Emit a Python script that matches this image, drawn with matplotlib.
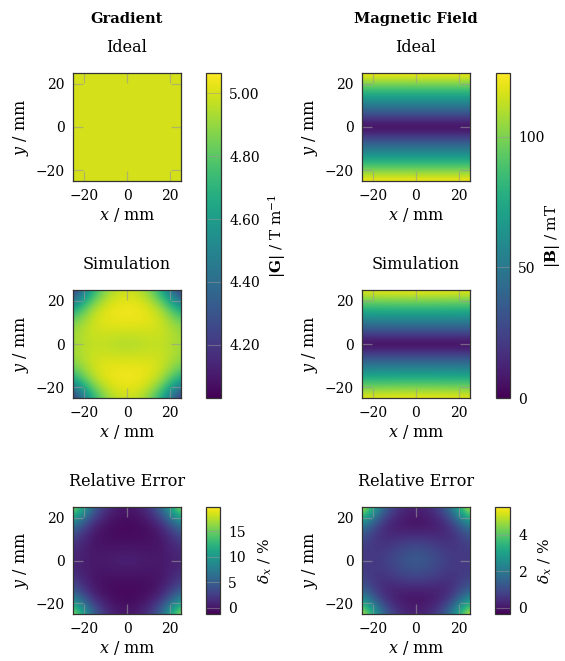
import matplotlib
matplotlib.use("Agg")
import matplotlib.pyplot as plt
import numpy as np

plt.rcParams['font.family'] = ['DejaVu Serif']
plt.rcParams['mathtext.fontset'] = 'dejavuserif'
plt.rcParams['font.size'] = 10

# grid nodes (mm)
nodes7 = [-25, -16.67, -8.33, 0, 8.33, 16.67, 25]
nodes2 = [-25, 25]
nodes3 = [-25, 0, 25]
nodes11 = [-25, -20, -15, -10, -5, 0, 5, 10, 15, 20, 25]

# gradient |G| in T/m
G_ideal = [[5.0, 5.0],
           [5.0, 5.0]]
G_sim = [[4.08, 4.62, 4.93, 4.98, 4.93, 4.62, 4.08],
         [4.62, 4.95, 5.05, 5.06, 5.05, 4.95, 4.62],
         [4.90, 5.00, 5.02, 5.02, 5.02, 5.00, 4.90],
         [4.91, 4.97, 4.94, 4.92, 4.94, 4.97, 4.91],
         [4.90, 5.00, 5.02, 5.02, 5.02, 5.00, 4.90],
         [4.62, 4.95, 5.05, 5.06, 5.05, 4.95, 4.62],
         [4.08, 4.62, 4.93, 4.98, 4.93, 4.62, 4.08]]
G_err = [[19.6, 6.5, 1.0, 0.0, 1.0, 6.5, 19.6],
         [6.5, 0.5, -0.7, -1.0, -0.7, 0.5, 6.5],
         [2.0, -0.2, -0.4, -0.4, -0.4, -0.2, 2.0],
         [0.8, 0.2, 0.6, 1.0, 0.6, 0.2, 0.8],
         [2.0, -0.2, -0.4, -0.4, -0.4, -0.2, 2.0],
         [6.5, 0.5, -0.7, -1.0, -0.7, 0.5, 6.5],
         [19.6, 6.5, 1.0, 0.0, 1.0, 6.5, 19.6]]

# magnetic field |B| in mT (rows along y, nodes11)
B_ideal = [[125, 125], [100, 100], [75, 75], [50, 50], [25, 25], [0, 0],
           [25, 25], [50, 50], [75, 75], [100, 100], [125, 125]]
B_sim = [[121, 124, 121], [98, 100, 98], [74, 75, 74], [50, 50, 50],
         [25, 25, 25], [0.5, 0.5, 0.5], [25, 25, 25], [50, 50, 50],
         [74, 75, 74], [98, 100, 98], [121, 124, 121]]
B_err = [[6.0, 2.0, 0.5, 0.2, 0.5, 2.0, 6.0],
         [2.0, 0.3, -0.1, -0.2, -0.1, 0.3, 2.0],
         [0.8, 0.4, 0.7, 0.9, 0.7, 0.4, 0.8],
         [0.6, 0.7, 1.2, 1.5, 1.2, 0.7, 0.6],
         [0.8, 0.4, 0.7, 0.9, 0.7, 0.4, 0.8],
         [2.0, 0.3, -0.1, -0.2, -0.1, 0.3, 2.0],
         [6.0, 2.0, 0.5, 0.2, 0.5, 2.0, 6.0]]

G_lim = (4.03, 5.065)
B_lim = (0, 124.5)
Gerr_lim = (-1.2, 19.7)
Berr_lim = (-0.33, 5.5)

W, H = 565, 661
fig = plt.figure(figsize=(W / 100, H / 100), dpi=100)


def box(l, t, w, h):
    # pixel box -> figure fraction
    return [l / W, 1 - (t + h) / H, w / W, h / H]


def heat(ax, xn, yn, Z, lim, title):
    dx = (xn[-1] - xn[0]) / (len(xn) - 1)
    dy = (yn[-1] - yn[0]) / (len(yn) - 1)
    ext = (xn[0] - dx / 2, xn[-1] + dx / 2, yn[0] - dy / 2, yn[-1] + dy / 2)
    im = ax.imshow(np.array(Z), origin='lower', extent=ext, cmap='viridis',
                   vmin=lim[0], vmax=lim[1], interpolation='bicubic', aspect='auto')
    ax.set_xlim(-25, 25)
    ax.set_ylim(-25, 25)
    ax.set_xticks([-20, 0, 20])
    ax.set_yticks([-20, 0, 20])
    ax.tick_params(direction='in', length=7, width=0.9, color=(0.6, 0.6, 0.6, 0.6),
                   top=True, right=True, pad=6)
    for s in ax.spines.values():
        s.set_color('#333333')
        s.set_linewidth(0.9)
    ax.set_xlabel(r'$x$ / mm', labelpad=2, fontsize=11.5)
    ax.set_ylabel(r'$y$ / mm', labelpad=3, fontsize=11.5)
    ax.set_title(title, pad=15, fontsize=11.5)
    return im


def cbar(im, cax, ticks, fmt, label, xpos):
    cb = fig.colorbar(im, cax=cax, ticks=ticks, format=fmt)
    cb.ax.tick_params(direction='in', length=10, width=0.8, color=(0.6, 0.6, 0.6, 0.5),
                      pad=6)
    cb.outline.set_edgecolor('#333333')
    cb.outline.set_linewidth(0.9)
    cb.set_label(label, fontsize=11)
    cb.ax.yaxis.set_label_coords(xpos, 0.5)
    return cb


# left column: gradient
ax1 = fig.add_axes(box(73, 73, 108, 108))
im1 = heat(ax1, nodes2, nodes2, G_ideal, G_lim, 'Ideal')
ax2 = fig.add_axes(box(73, 290, 108, 108))
im2 = heat(ax2, nodes7, nodes7, G_sim, G_lim, 'Simulation')
ax3 = fig.add_axes(box(73, 507, 108, 107))
im3 = heat(ax3, nodes7, nodes7, G_err, Gerr_lim, 'Relative Error')

cbar(im2, fig.add_axes(box(206, 73, 15, 325)), [4.2, 4.4, 4.6, 4.8, 5.0], '%.2f',
     r'$|\mathbf{G}|$ / T m$^{-1}$', 4.0)
cbar(im3, fig.add_axes(box(206, 507, 14, 107)), [0, 5, 10, 15], '%d',
     r'$\delta_x$ / %', 3.6)

# right column: magnetic field
ax4 = fig.add_axes(box(362, 73, 108, 108))
im4 = heat(ax4, nodes2, nodes11, B_ideal, B_lim, 'Ideal')
ax5 = fig.add_axes(box(362, 290, 108, 108))
im5 = heat(ax5, nodes3, nodes11, B_sim, B_lim, 'Simulation')
ax6 = fig.add_axes(box(362, 507, 108, 107))
im6 = heat(ax6, nodes7, nodes7, B_err, Berr_lim, 'Relative Error')

cbar(im5, fig.add_axes(box(496, 73, 14, 325)), [0, 50, 100], '%d',
     r'$|\mathbf{B}|$ / mT', 3.35)
cbar(im6, fig.add_axes(box(495, 507, 15, 107)), [0, 2, 4], '%d',
     r'$\delta_x$ / %', 2.8)

fig.text(127 / W, 1 - 23 / H, 'Gradient', ha='center', va='baseline',
         fontweight='bold', fontsize=10.5)
fig.text(416 / W, 1 - 23 / H, 'Magnetic Field', ha='center', va='baseline',
         fontweight='bold', fontsize=10.5)

fig.savefig('out.png', dpi=100)
